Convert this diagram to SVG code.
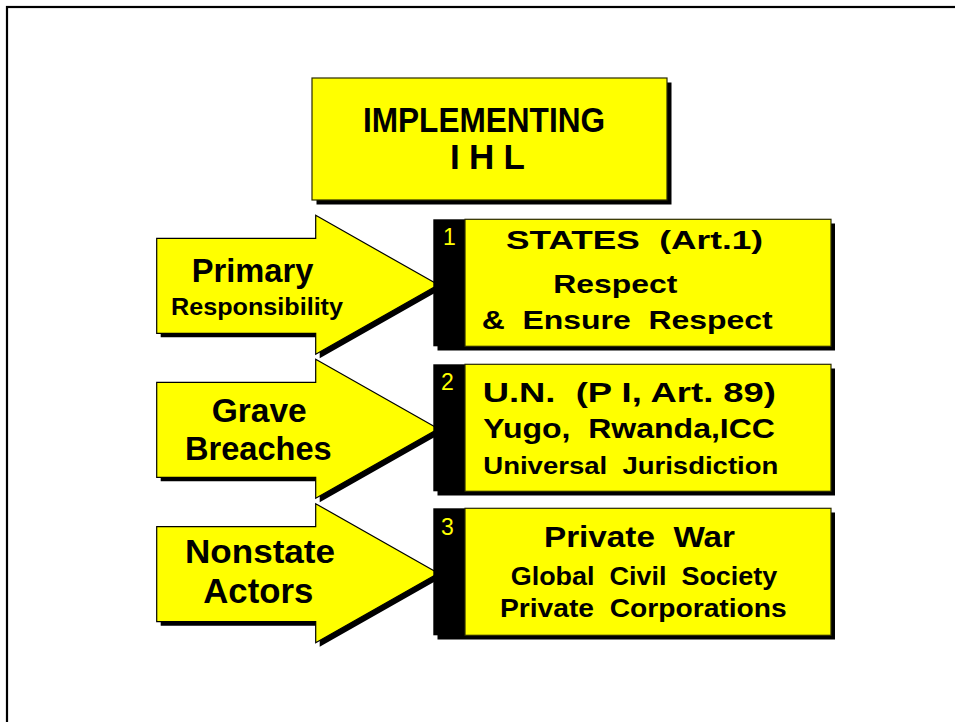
<svg xmlns="http://www.w3.org/2000/svg" width="955" height="722" viewBox="0 0 955 722">
<style>
.bg{fill:#fff}
.frame{fill:none;stroke:#000;stroke-width:2.2}
.sh{fill:#000}
.yb{fill:#ffff00;stroke:#2a2a00;stroke-width:1.2}
.ar{fill:#ffff00;stroke:#000;stroke-width:1.2;stroke-linejoin:miter}
.t{font-family:"Liberation Sans",Arial,sans-serif;font-weight:bold;fill:#000;white-space:pre}
.n{font-family:"Liberation Sans",Arial,sans-serif;fill:#ffff00;font-size:23px}
</style>
<defs>
<path id="arrow" d="M0,0 H159 V-23 L281.6,46.5 L159,116 V95 H0 Z"/>
</defs>
<rect class="bg" x="0" y="0" width="955" height="722"/>
<rect class="frame" x="7" y="7" width="970" height="740"/>

<g id="title">
<rect class="sh" x="316.5" y="82.5" width="355" height="122"/>
<rect class="yb" x="312" y="78" width="355" height="122"/>
<text class="t" x="363" y="131.7" font-size="35" textLength="242" lengthAdjust="spacingAndGlyphs">IMPLEMENTING</text>
<text class="t" x="450" y="169.3" font-size="35" textLength="75" lengthAdjust="spacing">I H L</text>
</g>

<g id="arrow-1">
<use href="#arrow" class="sh" transform="translate(160.7,242.3)"/>
<use href="#arrow" class="ar" transform="translate(156.7,238.3)"/>
<text class="t" x="191.7" y="281.7" font-size="34" textLength="121.6" lengthAdjust="spacingAndGlyphs">Primary</text>
<text class="t" x="171" y="315" font-size="24" textLength="172" lengthAdjust="spacingAndGlyphs">Responsibility</text>
</g>

<g id="arrow-2">
<use href="#arrow" class="sh" transform="translate(160.7,386.3)"/>
<use href="#arrow" class="ar" transform="translate(156.7,382.3)"/>
<text class="t" x="211.7" y="421.7" font-size="34" textLength="95" lengthAdjust="spacingAndGlyphs">Grave</text>
<text class="t" x="185" y="460" font-size="34" textLength="146.7" lengthAdjust="spacingAndGlyphs">Breaches</text>
</g>

<g id="arrow-3">
<use href="#arrow" class="sh" transform="translate(160.7,530.7)"/>
<use href="#arrow" class="ar" transform="translate(156.7,526.7)"/>
<text class="t" x="185" y="563.3" font-size="34" textLength="150" lengthAdjust="spacingAndGlyphs">Nonstate</text>
<text class="t" x="203.3" y="603" font-size="35" textLength="110" lengthAdjust="spacingAndGlyphs">Actors</text>
</g>

<g id="box-1">
<rect class="sh" x="437.5" y="223.5" width="397.5" height="127"/>
<rect class="sh" x="433.3" y="219.3" width="32" height="127"/>
<rect class="yb" x="465" y="219.3" width="366" height="127"/>
<text class="n" x="443" y="245">1</text>
<text class="t" x="506" y="249" font-size="26.5" textLength="257" lengthAdjust="spacingAndGlyphs">STATES  (Art.1)</text>
<text class="t" x="553.3" y="292.7" font-size="26.5" textLength="124" lengthAdjust="spacingAndGlyphs">Respect</text>
<text class="t" x="481.7" y="329" font-size="26.5" textLength="291" lengthAdjust="spacingAndGlyphs">&amp;  Ensure  Respect</text>
</g>

<g id="box-2">
<rect class="sh" x="437.5" y="368.5" width="397.5" height="127"/>
<rect class="sh" x="433.3" y="364.3" width="32" height="127"/>
<rect class="yb" x="465" y="364.3" width="366" height="127"/>
<text class="n" x="441" y="390">2</text>
<text class="t" x="482.7" y="401.7" font-size="28" textLength="293.3" lengthAdjust="spacingAndGlyphs">U.N.  (P I, Art. 89)</text>
<text class="t" x="483.3" y="438.3" font-size="28" textLength="291.7" lengthAdjust="spacingAndGlyphs">Yugo,  Rwanda,ICC</text>
<text class="t" x="483.3" y="474" font-size="24.5" textLength="295" lengthAdjust="spacingAndGlyphs">Universal  Jurisdiction</text>
</g>

<g id="box-3">
<rect class="sh" x="437.5" y="512.5" width="397.5" height="127"/>
<rect class="sh" x="433.3" y="508.3" width="32" height="127"/>
<rect class="yb" x="465" y="508.3" width="366" height="127"/>
<text class="n" x="441" y="535">3</text>
<text class="t" x="544" y="546.7" font-size="30" textLength="191" lengthAdjust="spacingAndGlyphs">Private  War</text>
<text class="t" x="510.7" y="585" font-size="25.5" textLength="266.6" lengthAdjust="spacingAndGlyphs">Global  Civil  Society</text>
<text class="t" x="500" y="617.3" font-size="25.5" textLength="286.7" lengthAdjust="spacingAndGlyphs">Private  Corporations</text>
</g>
</svg>
